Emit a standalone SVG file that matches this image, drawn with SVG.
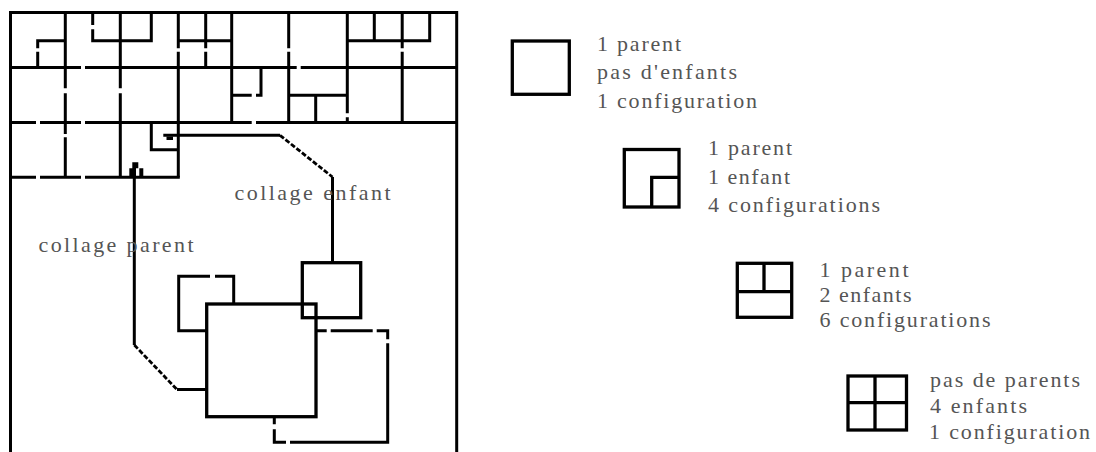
<svg xmlns="http://www.w3.org/2000/svg" width="1096" height="452" viewBox="0 0 1096 452">
<style>
.ln{fill:none;stroke:#000;stroke-width:3;stroke-linejoin:miter;stroke-linecap:butt}
.bx{fill:none;stroke:#000;stroke-width:3.3}
.dot{fill:none;stroke:#000;stroke-width:2.8;stroke-dasharray:5 2}
.t{font-family:"Liberation Serif","Times New Roman",serif;font-size:22px;fill:#555}
</style>
<rect width="1096" height="452" fill="#fff"/>
<g id="grid" class="ln">
<path d="M10.5,452 V12.5 H456.7 V452"/>
<path d="M65.3,12.5 V88.3 M65.3,93.3 V134 M65.3,137.3 V177.3"/>
<path d="M120.3,12.5 V88.3 M120.3,93.3 V177.3"/>
<path d="M178.3,12.5 V48.3 M178.3,51.7 V177.3"/>
<path d="M231.7,12.5 V122.5"/>
<path d="M288.7,12.5 V48.3 M288.7,51.7 V122.5"/>
<path d="M347.3,12.5 V113.3 M347.3,117.3 V122.5"/>
<path d="M402.2,12.5 V48.3 M402.2,51.7 V122.5"/>
<path d="M10.5,67.5 H81 M85,67.5 H296.7 M300.7,67.5 H456.7"/>
<path d="M10.5,122.5 H36 M40,122.5 H81 M85,122.5 H251.7 M256,122.5 H456.7"/>
<path d="M10.5,177.3 H36 M40,177.3 H81 M85,177.3 H179.8"/>
<path d="M65.3,40.7 H37.7 V48.3 M37.7,51.7 V67.5"/>
<path d="M92.7,12.5 V25 M92.7,29.3 V40.7 H151.3 V12.5"/>
<path d="M178.3,40.7 H231.7 M205.7,12.5 V48.3 M205.7,51.7 V67.5"/>
<path d="M231.7,95.3 H251.7 M256,95.3 H261 V67.5"/>
<path d="M288.7,95.3 H347.3 M315.7,95.3 V122.5"/>
<path d="M374.3,12.5 V40.7 M347.3,40.7 H429.7 V12.5"/>
<path d="M151.3,122.5 V149.8 H178.3"/>
</g>
<g id="connectors">
<path class="ln" d="M163.3,135.3 H280"/>
<path class="dot" d="M280,135.3 L332.5,177"/>
<path class="ln" d="M332.5,177 V262.7"/>
<rect x="166.5" y="136.5" width="6.5" height="3.5" fill="#000"/>
<path class="ln" d="M134.3,177 V345"/>
<path d="M129.3,177 V168.3 H132.3 V162.3 H138.3 V168.3 H143.3 V177 H139.3 V168.3 H136 V177 Z" fill="#000"/>
<path class="dot" d="M134.3,345 L177,389.5"/>
<path class="ln" d="M177,389.5 H206.7"/>
</g>
<g id="parent-block">
<path class="ln" d="M206.7,330.7 H178.7 V276.3 H210 M215,276.3 H233.7 V304"/>
</g>
<g id="dashed-block">
<path class="ln" d="M316,330.7 H326.7 M330.7,330.7 H372.7 M376.7,330.7 H387.7 V339.3 M387.7,343.3 V442.3 H290 M286,442.3 H274.3 V429.3 M274.3,424.3 V416.7"/>
</g>
<g id="big-block"><rect class="bx" x="206.7" y="304" width="109.3" height="112.7"/></g>
<g id="child-block"><rect class="bx" x="302.3" y="262.7" width="58.4" height="55"/></g>
<g id="labels">
<text class="t" x="38.5" y="251.7" textLength="155" lengthAdjust="spacing">collage parent</text>
<text class="t" x="234.5" y="200" textLength="156" lengthAdjust="spacing">collage enfant</text>
</g>
<g id="legend1">
<rect class="bx" x="512.3" y="41" width="57" height="53.3"/>
<text class="t" x="597" y="50.5" textLength="84" lengthAdjust="spacing">1 parent</text>
<text class="t" x="597" y="79" textLength="140" lengthAdjust="spacing">pas d'enfants</text>
<text class="t" x="597" y="108" textLength="160" lengthAdjust="spacing">1 configuration</text>
</g>
<g id="legend2">
<rect class="bx" x="624.3" y="149.5" width="54.7" height="57.5"/>
<path class="bx" d="M651.7,207 V177.3 H679"/>
<text class="t" x="708" y="155" textLength="84" lengthAdjust="spacing">1 parent</text>
<text class="t" x="708" y="184" textLength="82" lengthAdjust="spacing">1 enfant</text>
<text class="t" x="708" y="211.5" textLength="172" lengthAdjust="spacing">4 configurations</text>
</g>
<g id="legend3">
<rect class="bx" x="737.3" y="263.3" width="54.4" height="54"/>
<path class="bx" d="M737.3,291.7 H791.7 M764,263.3 V291.7"/>
<text class="t" x="819.5" y="277" textLength="89" lengthAdjust="spacing">1 parent</text>
<text class="t" x="819.5" y="302" textLength="92" lengthAdjust="spacing">2 enfants</text>
<text class="t" x="819.5" y="327" textLength="171" lengthAdjust="spacing">6 configurations</text>
</g>
<g id="legend4">
<rect class="bx" x="848" y="376" width="58.5" height="54"/>
<path class="bx" d="M848,402.7 H906.5 M875,376 V430"/>
<text class="t" x="930" y="387" textLength="150" lengthAdjust="spacing">pas de parents</text>
<text class="t" x="930" y="413" textLength="97" lengthAdjust="spacing">4 enfants</text>
<text class="t" x="929" y="439" textLength="161" lengthAdjust="spacing">1 configuration</text>
</g>
</svg>
